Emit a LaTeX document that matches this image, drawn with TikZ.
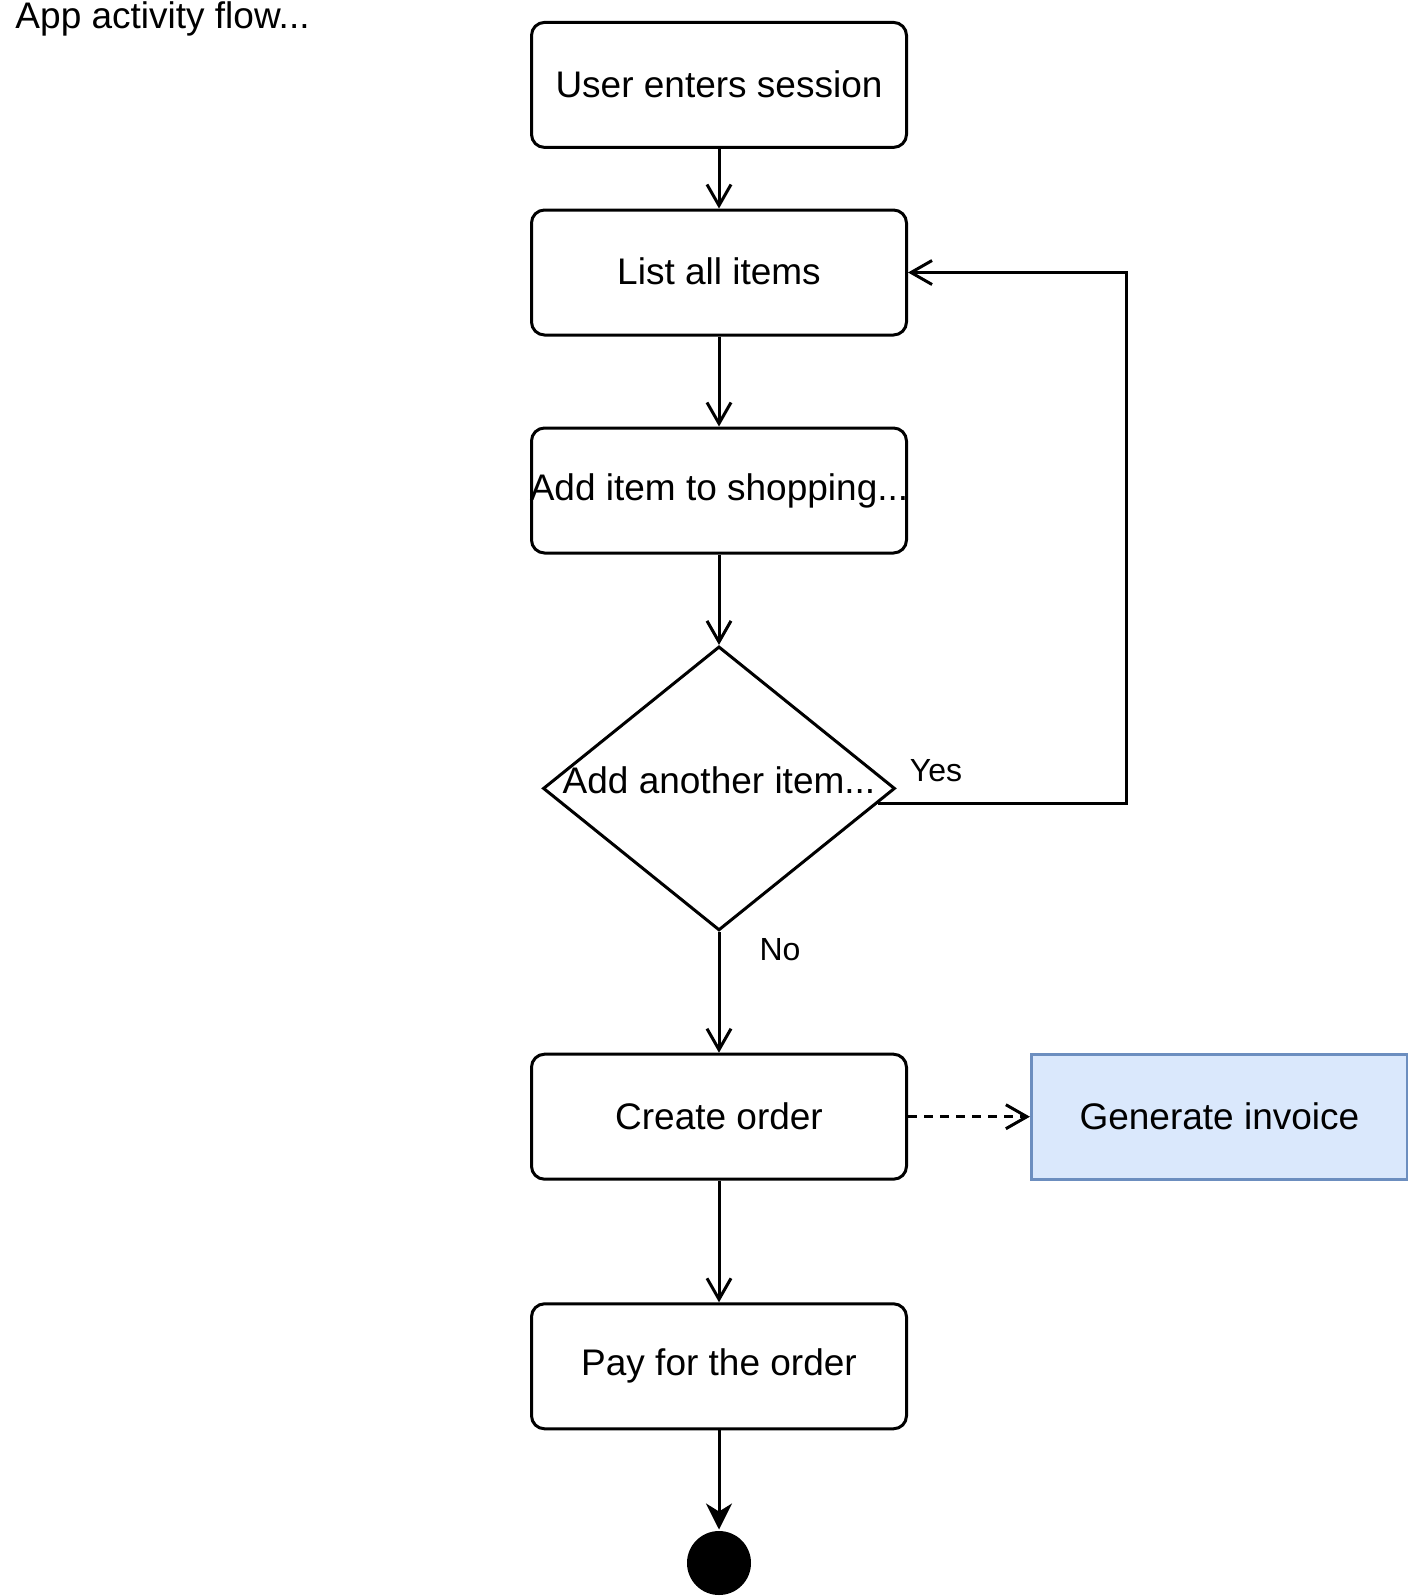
\documentclass[tikz,border=0pt]{standalone}
\usepackage{fontspec}
\setmainfont{Liberation Sans}
\usetikzlibrary{arrows.meta,shapes.geometric,calc}
\definecolor{invfill}{HTML}{DAE8FC}
\definecolor{invdraw}{HTML}{6C8EBF}
\begin{document}
\begin{tikzpicture}[x=0.5pt,y=-0.5pt,
  line width=1.5pt,
  every node/.style={font=\fontsize{18.5pt}{22pt}\selectfont},
  actbox/.style={draw, rectangle, rounded corners=6.5pt, minimum width=187.5pt, minimum height=62.5pt, inner sep=0pt},
  decbox/.style={draw, diamond, minimum width=176pt, minimum height=142pt, inner sep=0pt},
  invbox/.style={draw=invdraw, fill=invfill, rectangle, minimum width=188pt, minimum height=62.5pt, inner sep=0pt},
  endnode/.style={circle, fill=black, minimum size=32pt, inner sep=0pt},
  lbl/.style={font=\fontsize{16pt}{19pt}\selectfont, inner sep=0pt},
  openarr/.style={-{Straight Barb[length=10.5pt,width=12pt]}},
  filledarr/.style={-{Stealth[length=13pt,width=13pt,inset=4pt]}},
]
\useasboundingbox (0,0) rectangle (1408,1596);
\node[anchor=base west, inner sep=0pt] (title) at (14,28) {App activity flow...};
\node[actbox] (b1) at (719,84.9) {\raisebox{1pt}{User enters session}};
\node[actbox] (b2) at (719,272.5) {\raisebox{1pt}{List all items}};
\node[actbox] (b3) at (719,490.5) {\makebox[0pt]{Add item to shopping...}};
\node[decbox] (dia) at (719,788.4) {};
\node[inner sep=0pt] (diatext) at (719,780) {\makebox[0pt]{Add another item...}};
\node[actbox] (co) at (719,1116.7) {\raisebox{1pt}{Create order}};
\node[invbox] (inv) at (1219.4,1116.7) {\raisebox{1pt}{Generate invoice}};
\node[actbox] (pay) at (719,1366.3) {\raisebox{1pt}{Pay for the order}};
\node[endnode] (end) at (719,1563) {};
\node[lbl] (yes) at (936,770.6) {Yes};
\node[lbl] (no) at (780,949.5) {No};

\coordinate (ys) at ($(dia.east)!0.105!(dia.south)$);
\draw[openarr] (b1) -- (b2);
\draw[openarr] (b2) -- (b3);
\draw[openarr] (b3) -- (dia);
\draw[openarr] (dia) -- (co);
\draw[openarr] (ys) -- ++(249,0) |- (b2.east);
\draw[openarr] (co) -- (pay);
\draw[filledarr] (pay) -- (end);
\draw[openarr, dash pattern=on 4.5pt off 3.5pt] (co.east) -- (inv.west);
\end{tikzpicture}
\end{document}
